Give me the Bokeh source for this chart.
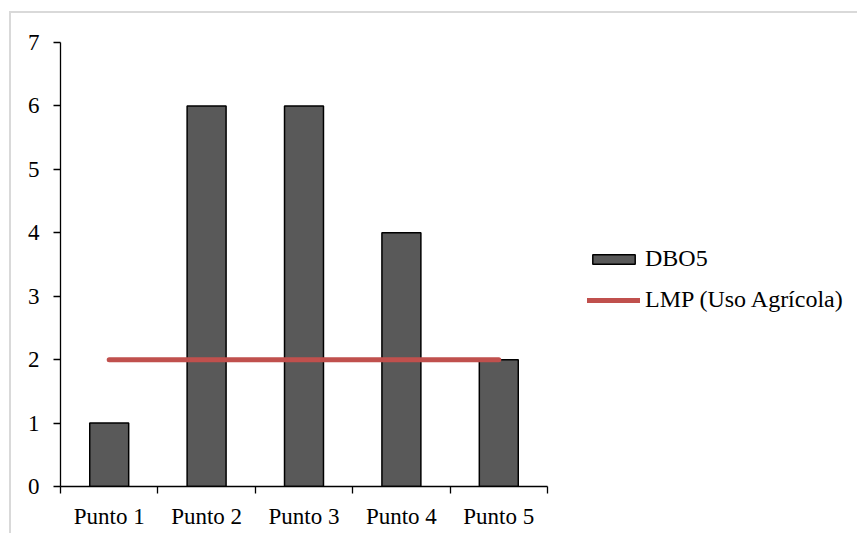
from bokeh.plotting import figure
from bokeh.models import Range1d, FixedTicker, Legend, LegendItem, ColumnDataSource
from bokeh.embed import file_html
from bokeh.resources import INLINE

categories = ["Punto 1", "Punto 2", "Punto 3", "Punto 4", "Punto 5"]
dbo5 = [1, 6, 6, 4, 2]
lmp = [2, 2, 2, 2, 2]
y_ticks = [0, 1, 2, 3, 4, 5, 6, 7]

FONT = "Liberation Serif"
FS = "23px"
LEG_FS = "24px"

W, H = 848, 522
LEFT, TOP, BOTTOM = 49, 29, 49
PLOT_W = 487  # pixel width of the category area
frame_w = W - LEFT
n = len(categories)
x_end = n * frame_w / PLOT_W

xpos = [i + 0.5 for i in range(n)]
src = ColumnDataSource(dict(x=xpos, cat=categories, dbo5=dbo5, lmp=lmp))

p = figure(width=W, height=H, output_backend="svg", toolbar_location=None,
           x_range=Range1d(0, x_end), y_range=Range1d(0, 7),
           min_border_left=LEFT, min_border_right=0, min_border_top=TOP, min_border_bottom=BOTTOM)
p.margin = (11, 0, 0, 9)
p.styles = {"border-top": "2px solid #D9D9D9", "border-left": "2px solid #D9D9D9"}
p.outline_line_color = None
p.xgrid.visible = False
p.ygrid.visible = False
p.background_fill_color = "white"
p.border_fill_color = "white"

bars = p.vbar(x="x", top="dbo5", width=0.4, source=src, fill_color="#595959",
              line_color="black", line_width=1.5)
ln = p.line(x="x", y="lmp", source=src, line_color="#C0504D", line_width=5, line_cap="round")

xa = p.xaxis[0]
xa.bounds = (0, n)
xa.ticker = FixedTicker(ticks=xpos, minor_ticks=list(range(n + 1)))
xa.major_label_overrides = {x: c for x, c in zip(xpos, categories)}
xa.major_tick_out = 0
xa.major_tick_in = 0
xa.minor_tick_out = 7
xa.minor_tick_in = 0
xa.minor_tick_line_color = "black"
xa.minor_tick_line_width = 1.3
xa.axis_line_color = "black"
xa.axis_line_width = 1.3
xa.major_label_standoff = 10
xa.major_label_text_font = FONT
xa.major_label_text_font_size = FS
xa.major_label_text_color = "black"

ya = p.yaxis[0]
ya.ticker = FixedTicker(ticks=y_ticks)
ya.minor_tick_line_color = None
ya.major_tick_out = 7
ya.major_tick_in = 0
ya.major_tick_line_color = "black"
ya.major_tick_line_width = 1.3
ya.axis_line_color = "black"
ya.axis_line_width = 1.3
ya.major_label_standoff = 14
ya.major_label_text_font = FONT
ya.major_label_text_font_size = FS
ya.major_label_text_color = "black"

legend = Legend(items=[LegendItem(label="DBO5", renderers=[bars]),
                       LegendItem(label="LMP (Uso Agrícola)", renderers=[ln])],
                location=(527, 173), orientation="vertical")
legend.border_line_color = None
legend.background_fill_alpha = 0
legend.padding = 0
legend.margin = 0
legend.glyph_width = 53
legend.glyph_height = 12
legend.label_standoff = 5
legend.spacing = 14
legend.label_text_font = FONT
legend.label_text_font_size = LEG_FS
legend.label_text_color = "black"
p.add_layout(legend, "center")

open("out.html", "w").write(file_html(p, INLINE))
